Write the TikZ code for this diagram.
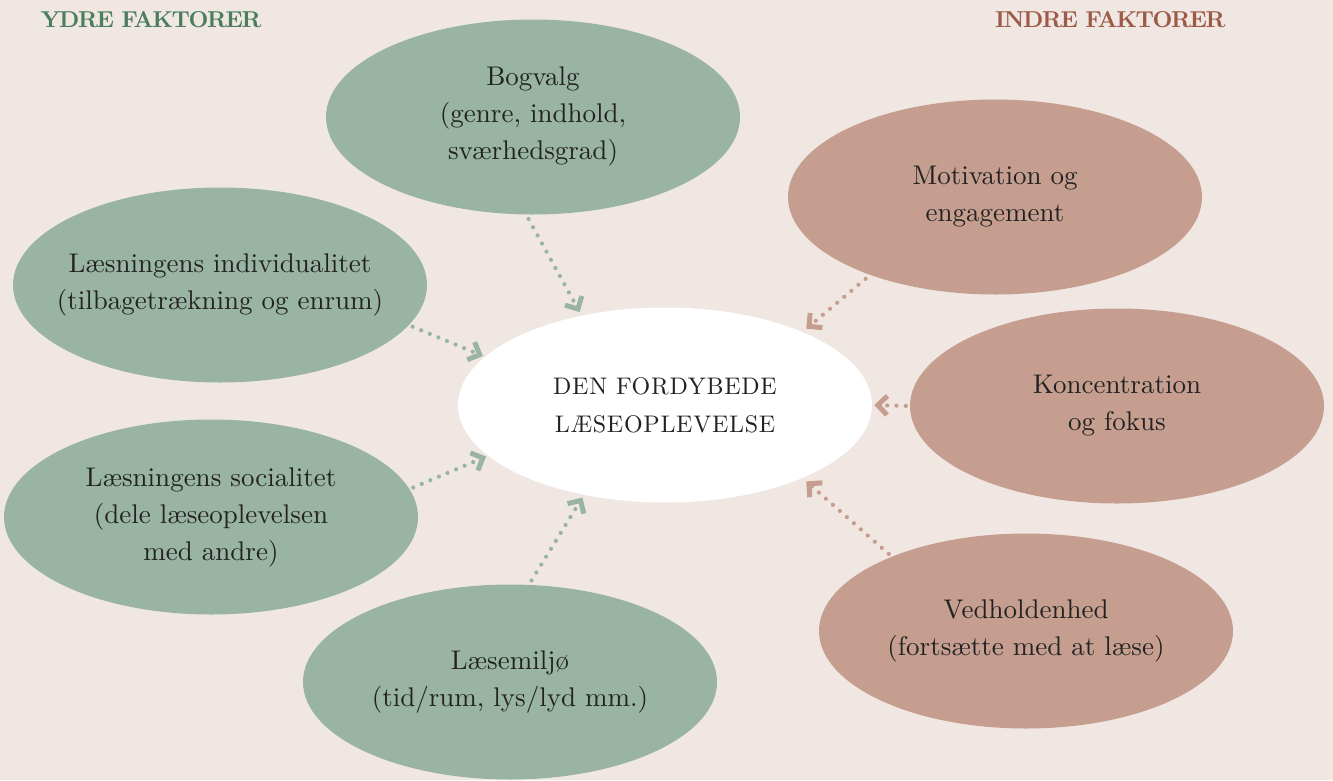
\documentclass[tikz,border=0pt]{standalone}
\usepackage{fontspec}
\setmainfont{lmroman10-regular.otf}[BoldFont=lmroman10-bold.otf]
\usetikzlibrary{shapes.geometric,arrows.meta}
\definecolor{bg}{HTML}{F0E7E2}
\definecolor{gfill}{HTML}{99B4A2}
\definecolor{rfill}{HTML}{C59E8F}
\definecolor{gtitle}{HTML}{4B7D5F}
\definecolor{rtitle}{HTML}{9C5A47}
\definecolor{txt}{HTML}{222222}
\begin{document}
\begin{tikzpicture}[x=1pt,y=-1pt,
 bubble/.style={ellipse, minimum width=414pt, minimum height=195pt, inner xsep=-30pt, inner ysep=0pt, align=center, text=txt, font=\fontsize{27}{37}\selectfont},
 gbub/.style={bubble, fill=gfill},
 rbub/.style={bubble, fill=rfill},
 link/.style={line width=4.2pt, line cap=round, dash pattern=on 0pt off 9.3pt, -{Straight Barb[sharp, angle=90:13.5pt, line width=5pt]}},
 glink/.style={link, draw=gfill},
 rlink/.style={link, draw=rfill},
 title/.style={font=\bfseries\fontsize{23}{26}\selectfont\addfontfeatures{LetterSpace=-6}, anchor=west},
]
\fill[bg] (0,0) rectangle (1333,780);
\useasboundingbox (0,0) rectangle (1333,780);

\node[title, text=gtitle, anchor=west] (ydre) at (37,20) {YDRE FAKTORER};
\node[title, text=rtitle, anchor=east] (indre) at (1229,20) {INDRE FAKTORER};

\node[gbub] (bog) at (533,117) {Bogvalg\\(genre, indhold,\\sværhedsgrad)};
\node[gbub] (ind) at (220,285) {Læsningens individualitet\\(tilbagetrækning og enrum)};
\node[gbub] (soc) at (211,517) {Læsningens socialitet\\(dele læseoplevelsen\\med andre)};
\node[gbub] (mil) at (510,682) {Læsemiljø\\(tid/rum, lys/lyd mm.)};
\node[bubble, fill=white, font=\fontsize{24}{38}\selectfont\addfontfeatures{LetterSpace=3}] (c) at (665,405) {DEN FORDYBEDE\\LÆSEOPLEVELSE};
\node[rbub] (mot) at (995,197) {Motivation og\\engagement};
\node[rbub] (kon) at (1117,406) {Koncentration\\og fokus};
\node[rbub] (ved) at (1026,631) {Vedholdenhed\\(fortsætte med at læse)};

\draw[glink, shorten <=5pt, shorten >=4pt] (bog.266) -- (c.133);
\draw[glink, shorten <=4pt, shorten >=2pt] (ind.-12) -- (c.165);
\draw[glink, shorten <=4pt, shorten >=2pt] (soc.8) -- (c.196);
\draw[glink, shorten <=5pt, shorten >=3pt] (mil.79) -- (c.228);
\draw[rlink, shorten <=6pt, shorten >=5pt] (mot.212) -- (c.28);
\draw[rlink, shorten <=4pt, shorten >=2pt] (kon.180) -- (c.0);
\draw[rlink, shorten <=4pt, shorten >=5pt] (ved.151) -- (c.-28);
\end{tikzpicture}
\end{document}
